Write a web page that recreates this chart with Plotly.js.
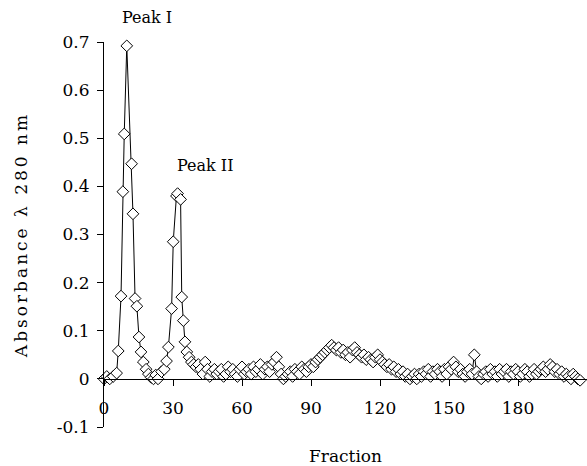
<!DOCTYPE html>
<html>
<head>
<meta charset="utf-8">
<script src="https://cdn.plot.ly/plotly-3.0.1.min.js"></script>
<style>html,body{margin:0;padding:0;background:#fff;}#chart{width:587px;height:466px;}</style>
</head>
<body>
<div id="chart"></div>
<script>
// Fraction numbers (x) and absorbance at 280 nm (y)
var peakFractions = [0, 1.2, 2.5, 4, 5.5, 6.2, 7.4, 8.2, 8.8, 9.9, 12, 12.6, 13.5, 14.3, 15.2, 16.1, 17.1, 18.3, 19.3, 20.5, 21.5, 22.5, 23.5, 25, 26.2, 27.2, 28, 29.4, 30.1, 31.5, 32, 33.3, 33.8, 34.5, 35.2, 36, 37];
var peakAbsorbance = [0, 0.005, 0, 0.005, 0.012, 0.058, 0.172, 0.389, 0.509, 0.692, 0.447, 0.343, 0.167, 0.151, 0.087, 0.056, 0.035, 0.02, 0.01, 0.003, 0, 0.008, 0, 0.015, 0.02, 0.037, 0.066, 0.146, 0.285, 0.38, 0.385, 0.373, 0.17, 0.121, 0.077, 0.056, 0.045];

var tailFractions = [38,39,40,41,42,43,44,45,46,47,48,49,50,51,52,53,54,55,56,57,58,59,60,61,62,63,64,65,66,67,68,69,70,71,72,73,74,75,76,77,78,79,80,81,82,83,84,85,86,87,88,89,90,91,92,93,94,95,96,97,98,99,100,101,102,103,104,105,106,107,108,109,110,111,112,113,114,115,116,117,118,119,120,121,122,123,124,125,126,127,128,129,130,131,132,133,134,135,136,137,138,139,140,141,142,143,144,145,146,147,148,149,150,151,152,153,154,155,156,157,158,159,160,161,162,163,164,165,166,167,168,169,170,171,172,173,174,175,176,177,178,179,180,181,182,183,184,185,186,187,188,189,190,191,192,193,194,195,196,197,198,199,200,201,202,203,204,205,206,207];
var tailAbsorbance = [0.035,0.03,0.025,0.03,0.02,0.01,0.035,0.02,0.005,0.015,0.02,0.01,0.015,0.02,0.005,0.01,0.025,0.015,0.02,0.01,0.005,0.02,0.025,0.01,0.015,0.02,0.01,0.025,0.015,0.02,0.03,0.01,0.02,0.025,0.015,0.03,0.035,0.045,0.025,0.01,0,0.005,0.01,0.015,0.005,0.02,0.015,0.01,0.025,0.02,0.015,0.025,0.03,0.025,0.035,0.04,0.045,0.05,0.055,0.06,0.065,0.07,0.065,0.06,0.065,0.055,0.06,0.05,0.055,0.045,0.06,0.065,0.055,0.05,0.045,0.05,0.04,0.045,0.04,0.035,0.045,0.05,0.04,0.035,0.03,0.025,0.03,0.02,0.025,0.015,0.02,0.01,0.015,0.005,0.01,0,0.005,0.01,0,0.01,0.005,0.015,0.01,0.02,0.005,0.015,0.01,0.02,0.015,0.005,0.02,0.01,0.025,0.02,0.035,0.025,0.015,0.02,0.01,0.005,0.015,0.02,0.01,0.05,0.015,0.005,0,0.01,0.015,0.005,0.02,0.01,0.015,0.005,0.02,0.01,0.015,0.02,0.005,0.015,0.01,0.02,0.015,0.005,0.01,0.02,0.015,0.005,0.01,0.02,0.01,0.015,0.02,0.025,0.015,0.02,0.03,0.025,0.015,0.02,0.01,0.015,0.005,0.01,0.005,0,0.01,0.005,0,-0.003];

var fractions = peakFractions.concat(tailFractions);
var absorbance = peakAbsorbance.concat(tailAbsorbance);

var yTickValues = [-0.1, 0, 0.1, 0.2, 0.3, 0.4, 0.5, 0.6, 0.7];
var yTickLabels = ["-0.1", "0", "0.1", "0.2", "0.3", "0.4", "0.5", "0.6", "0.7"];
var xTickValues = [0, 30, 60, 90, 120, 150, 180];
var xTickLabels = ["0", "30", "60", "90", "120", "150", "180"];
var peakLabels = ["Peak I", "Peak II"];
var peakLabelX = [18.7, 44];
var peakLabelY = [0.75, 0.443];

var FONT = "DejaVu Serif";
var yMin = -0.1, yMax = 0.7;
var trace = {
  x: fractions, y: absorbance, type: "scatter", mode: "lines+markers",
  line: {color: "#000", width: 1},
  marker: {symbol: "diamond", size: 9, color: "#fff", line: {color: "#000", width: 1}},
  cliponaxis: false, hoverinfo: "skip"
};
var layout = {
  width: 587, height: 466,
  margin: {l: 104, r: 0, t: 42, b: 39},
  paper_bgcolor: "#fff", plot_bgcolor: "#fff",
  showlegend: false,
  font: {family: FONT, size: 17, color: "#000"},
  xaxis: {
    range: [0, 210], tickvals: xTickValues, ticktext: xTickLabels,
    showgrid: false, zeroline: false, showline: true, linecolor: "#000", linewidth: 1,
    ticks: "outside", ticklen: 6, tickcolor: "#000", tickwidth: 1,
    anchor: "free", position: (0 - yMin) / (yMax - yMin),
    ticklabelstandoff: 8,
    title: {text: "Fraction", font: {family: FONT, size: 17}, standoff: 33}
  },
  yaxis: {
    range: [yMin, yMax], tickvals: yTickValues, ticktext: yTickLabels,
    showgrid: false, zeroline: false, showline: true, linecolor: "#000", linewidth: 1,
    ticks: "outside", ticklen: 6, tickcolor: "#000", tickwidth: 1,
    ticklabelstandoff: 4,
    title: {text: "Absorbance λ 280 nm", font: {family: FONT, size: 17}, standoff: 24}
  },
  annotations: peakLabels.map(function (t, i) {
    return {x: peakLabelX[i], y: (peakLabelY[i] - yMin) / (yMax - yMin), xref: "x", yref: "paper",
      xanchor: "center", yanchor: "middle",
      text: t, showarrow: false, font: {family: FONT, size: 16, color: "#000"}};
  })
};
Plotly.newPlot("chart", [trace], layout, {displayModeBar: false, staticPlot: true}).then(function (gd) {
  var yt = gd.querySelector(".ytitle");
  if (yt) { yt.style.letterSpacing = "3px"; }
});
</script>
</body>
</html>
